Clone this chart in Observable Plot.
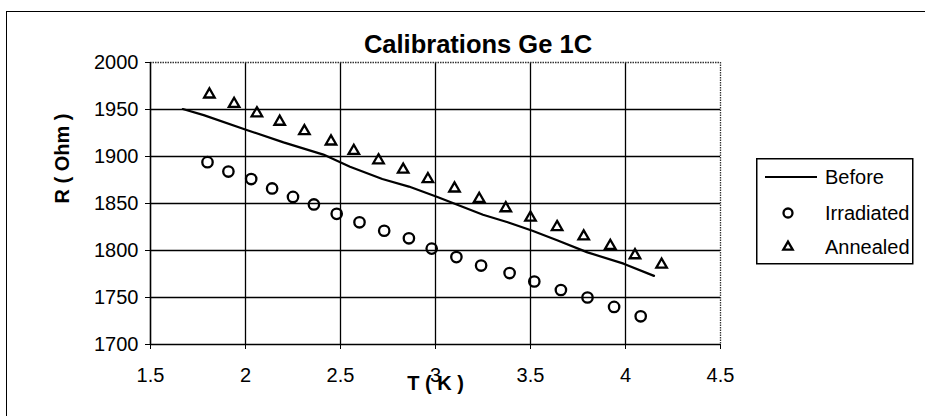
<!DOCTYPE html>
<html>
<head>
<meta charset="utf-8">
<script src="https://cdn.jsdelivr.net/npm/d3@7"></script>
<script src="https://cdn.jsdelivr.net/npm/@observablehq/plot@0.6"></script>
<style>
  body { margin: 0; background: #fff; }
  #wrap { position: relative; width: 925px; height: 416px; overflow: hidden; background: #fff;
          font-family: "Liberation Sans", Arial, sans-serif; color: #000; }
  #frame { position: absolute; left: 6px; top: 11px; width: 940px; height: 430px;
           border-left: 1.5px solid #000; border-top: 1.5px solid #000; }
  #title { position: absolute; left: 0; width: 956px; top: 31px; text-align: center;
           font-weight: bold; font-size: 25.5px; line-height: 26px; white-space: nowrap; }
  #chart { position: absolute; left: 0; top: 0; }
  #legend { position: absolute; left: 756px; top: 158px; }
</style>
</head>
<body>
<div id="wrap">
  <div id="frame"></div>
  <div id="chart"></div>
  <div id="title">Calibrations Ge 1C</div>
  <div id="legend"></div>
</div>
<script>
// ---- data ----
const seriesNames = ["Before", "Irradiated", "Annealed"];

const tBefore = [1.67, 1.78, 2.01, 2.20, 2.41, 2.55, 2.72, 2.86, 3.01, 3.25, 3.38, 3.51, 3.64, 3.80, 3.99, 4.15];
const rBefore = [1950.5, 1944, 1928, 1915, 1902, 1889, 1876, 1868, 1857, 1838, 1830, 1821, 1811, 1798, 1786, 1773];

const tIrradiated = [1.80, 1.91, 2.03, 2.14, 2.25, 2.36, 2.48, 2.60, 2.73, 2.86, 2.98, 3.11, 3.24, 3.39, 3.52, 3.66, 3.80, 3.94, 4.08];
const rIrradiated = [1894, 1884, 1876, 1866, 1857, 1849, 1839, 1830, 1821, 1813, 1802, 1793, 1784, 1776, 1767, 1758, 1750, 1740, 1730];

const tAnnealed = [1.81, 1.94, 2.06, 2.18, 2.31, 2.45, 2.57, 2.70, 2.83, 2.96, 3.10, 3.23, 3.37, 3.50, 3.64, 3.78, 3.92, 4.05, 4.19];
const rAnnealed = [1966, 1956, 1946, 1937, 1927, 1916, 1906, 1896, 1886, 1876, 1866, 1855, 1845, 1835, 1825, 1815, 1805, 1795, 1785];

const xTicks = [1.5, 2, 2.5, 3, 3.5, 4, 4.5];
const yTicks = [1700, 1750, 1800, 1850, 1900, 1950, 2000];
const xLabel = "T ( K )";
const yLabel = "R ( Ohm )";

// ---- tables ----
const before = tBefore.map((t, i) => ({t, r: rBefore[i]}));
const irradiated = tIrradiated.map((t, i) => ({t, r: rIrradiated[i]}));
const annealed = tAnnealed.map((t, i) => ({t, r: rAnnealed[i]}));

const xDomain = [xTicks[0], xTicks[xTicks.length - 1]];
const yDomain = [yTicks[0], yTicks[yTicks.length - 1]];

const plot = Plot.plot({
  width: 925,
  height: 416,
  marginLeft: 150,
  marginRight: 205,
  marginTop: 62,
  marginBottom: 72,
  style: {fontFamily: "'Liberation Sans', Arial, sans-serif", fontSize: "20px", color: "#000", background: "transparent", overflow: "visible"},
  x: {domain: xDomain},
  y: {domain: yDomain},
  marks: [
    Plot.gridX(xTicks.slice(1, -1), {stroke: "#000", strokeOpacity: 1, strokeWidth: 1.3}),
    Plot.gridY(yTicks.slice(1, -1), {stroke: "#000", strokeOpacity: 1, strokeWidth: 1.3}),
    Plot.ruleY([yDomain[1]], {stroke: "#333", strokeWidth: 1.3, strokeDasharray: "1.5,1"}),
    Plot.ruleX([xDomain[1]], {stroke: "#333", strokeWidth: 1.3, strokeDasharray: "1.5,1"}),
    Plot.ruleX([xDomain[0]], {stroke: "#000", strokeWidth: 1.6}),
    Plot.ruleY([yDomain[0]], {stroke: "#000", strokeWidth: 1.6}),
    Plot.axisX({ticks: xTicks, tickSize: 5, tickPadding: 18, tickFormat: d => String(d), label: null}),
    Plot.axisY({ticks: yTicks, tickSize: 5, tickPadding: 7, tickFormat: d => String(d), label: null}),
    Plot.text([xLabel], {text: d => d, frameAnchor: "bottom", dy: 45, fontWeight: "bold", fontSize: 20}),
    Plot.text([yLabel], {text: d => d, frameAnchor: "left", dx: -88, rotate: -90, fontWeight: "bold", fontSize: 20}),
    Plot.line(before, {x: "t", y: "r", stroke: "#000", strokeWidth: 2.2}),
    Plot.dot(irradiated, {x: "t", y: "r", r: 5.2, stroke: "#000", strokeWidth: 2.3, fill: "none"}),
    Plot.dot(annealed, {x: "t", y: "r", r: 3.9, symbol: "triangle", stroke: "#000", strokeWidth: 2.3, fill: "none"})
  ]
});
document.getElementById("chart").appendChild(plot);

// ---- legend ----
const lg = d3.select("#legend").append("svg")
  .attr("width", 158).attr("height", 108)
  .style("font-family", "'Liberation Sans', Arial, sans-serif")
  .style("font-size", "20px");
lg.append("rect").attr("x", 0.75).attr("y", 0.75).attr("width", 156).attr("height", 105)
  .attr("fill", "#fff").attr("stroke", "#000").attr("stroke-width", 1.5);
const rowsY = [19, 55, 89];
lg.append("line").attr("x1", 9).attr("x2", 61).attr("y1", rowsY[0]).attr("y2", rowsY[0])
  .attr("stroke", "#000").attr("stroke-width", 2.2);
lg.append("circle").attr("cx", 32).attr("cy", rowsY[1]).attr("r", 4.5)
  .attr("fill", "none").attr("stroke", "#000").attr("stroke-width", 2.3);
lg.append("path").attr("transform", `translate(32,${rowsY[2]})`)
  .attr("d", d3.symbol(d3.symbolTriangle, Math.PI * 3.5 * 3.5)())
  .attr("fill", "none").attr("stroke", "#000").attr("stroke-width", 2.3);
seriesNames.forEach((name, i) => {
  lg.append("text").attr("x", 69).attr("y", rowsY[i]).attr("dy", "0.35em").text(name);
});
</script>
</body>
</html>
